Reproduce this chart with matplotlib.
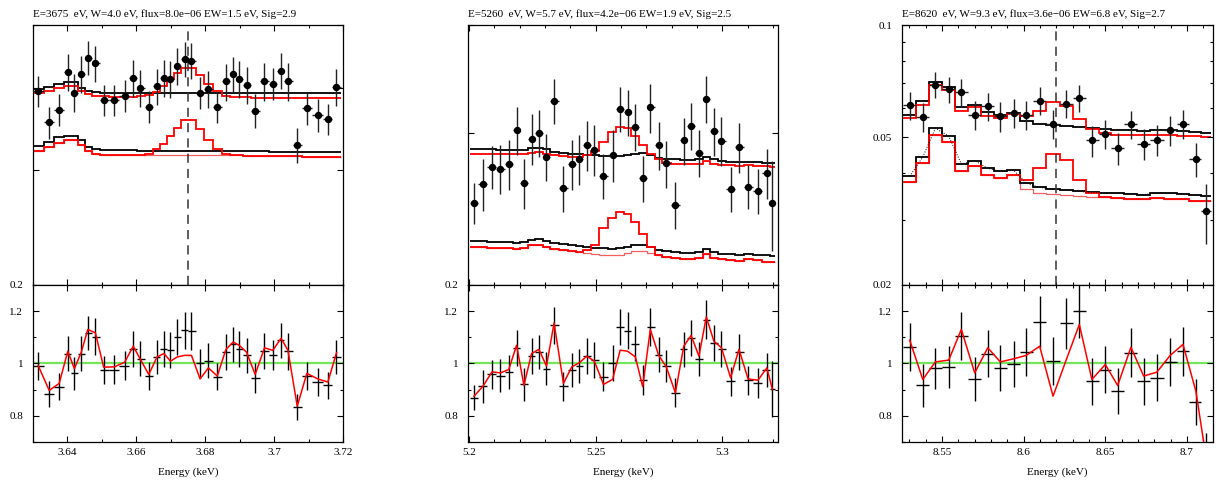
import matplotlib
matplotlib.use("Agg")
import matplotlib.pyplot as plt
import numpy as np
from matplotlib.ticker import MultipleLocator, FixedLocator, NullLocator, FormatStrFormatter

plt.rcParams['font.family'] = ['Liberation Serif', 'DejaVu Serif']
plt.rcParams['font.size'] = 8

# ---- panel 1 : E=3675 eV ----
p1_title = "E=3675  eV, W=4.0 eV, flux=8.0e\u221206 EW=1.5 eV, Sig=2.9"
p1_energy = [3.6315, 3.6347, 3.6376, 3.6401, 3.6420, 3.6440, 3.6459, 3.6481, 3.6505, 3.6536,
             3.6566, 3.6591, 3.6612, 3.6636, 3.6660, 3.6680, 3.6699, 3.6719, 3.6740, 3.6760,
             3.6785, 3.6809, 3.6835, 3.6860, 3.6881, 3.6899, 3.6920, 3.6945, 3.6972, 3.6996,
             3.7020, 3.7040, 3.7067, 3.7095, 3.7127, 3.7156, 3.7181]
p1_counts = [0.396, 0.355, 0.371, 0.424, 0.394, 0.421, 0.446, 0.437, 0.384, 0.384,
             0.390, 0.415, 0.401, 0.375, 0.403, 0.415, 0.414, 0.433, 0.444, 0.441,
             0.394, 0.399, 0.374, 0.410, 0.421, 0.414, 0.405, 0.370, 0.410, 0.407,
             0.426, 0.410, 0.328, 0.373, 0.364, 0.359, 0.402]
p1_ratio = [0.990, 0.884, 0.911, 1.038, 0.962, 1.038, 1.117, 1.102, 0.975, 0.977,
            0.992, 1.057, 1.019, 0.952, 1.025, 1.054, 1.051, 1.101, 1.127, 1.124,
            1.000, 1.011, 0.949, 1.045, 1.073, 1.054, 1.031, 0.943, 1.047, 1.034,
            1.088, 1.047, 0.834, 0.952, 0.929, 0.916, 1.025]
p1_ratio_err = [0.054, 0.050, 0.051, 0.066, 0.064, 0.066, 0.066, 0.070, 0.054, 0.054,
                0.055, 0.069, 0.066, 0.054, 0.066, 0.069, 0.069, 0.070, 0.070, 0.071,
                0.057, 0.066, 0.052, 0.068, 0.068, 0.069, 0.068, 0.057, 0.069, 0.057,
                0.068, 0.070, 0.051, 0.054, 0.054, 0.051, 0.066]
p1_line_ratio = [0.992, 0.897, 0.924, 1.047, 0.980, 1.043, 1.130, 1.117, 0.986, 0.987,
                 1.005, 1.066, 1.015, 0.958, 1.025, 1.038, 1.009, 1.025, 1.031, 1.031,
                 0.941, 0.983, 0.952, 1.054, 1.082, 1.069, 1.043, 0.958, 1.060, 1.050,
                 1.096, 1.051, 0.837, 0.962, 0.941, 0.929, 1.041]
p1_cont_hi = [0.399, 0.402, 0.406, 0.409, 0.409, 0.400, 0.396, 0.395, 0.394, 0.394,
              0.394, 0.394, 0.394, 0.394, 0.394, 0.394, 0.394, 0.394, 0.394, 0.394,
              0.394, 0.394, 0.394, 0.394, 0.394, 0.3935, 0.3935, 0.3935, 0.3935, 0.3935,
              0.393, 0.393, 0.393, 0.393, 0.393, 0.393, 0.393]
p1_line_hi = [0.393, 0.396, 0.401, 0.404, 0.404, 0.397, 0.392, 0.390, 0.389, 0.388,
              0.388, 0.388, 0.389, 0.391, 0.395, 0.403, 0.414, 0.423, 0.430, 0.430,
              0.419, 0.406, 0.397, 0.390, 0.388, 0.3875, 0.3875, 0.387, 0.387, 0.387,
              0.387, 0.387, 0.387, 0.387, 0.387, 0.387, 0.387]
p1_cont_lo = [0.326, 0.331, 0.337, 0.338, 0.338, 0.333, 0.325, 0.323, 0.322, 0.322,
              0.3215, 0.3215, 0.321, 0.321, 0.321, 0.321, 0.321, 0.321, 0.321, 0.321,
              0.321, 0.321, 0.321, 0.3205, 0.3205, 0.3205, 0.3205, 0.3205, 0.3205, 0.320,
              0.320, 0.320, 0.320, 0.320, 0.320, 0.320, 0.320]
p1_line_lo = [0.3205, 0.325, 0.330, 0.333, 0.333, 0.328, 0.321, 0.317, 0.3165, 0.316,
              0.316, 0.316, 0.3165, 0.317, 0.323, 0.329, 0.338, 0.348, 0.358, 0.358,
              0.347, 0.333, 0.323, 0.317, 0.316, 0.316, 0.3155, 0.3155, 0.315, 0.315,
              0.315, 0.315, 0.3148, 0.3146, 0.3145, 0.3145, 0.3145]
p1_red_base_lo = [0.3205, 0.325, 0.330, 0.333, 0.333, 0.328, 0.321, 0.317, 0.3165, 0.316,
                  0.316, 0.316, 0.3165, 0.3165, 0.3165, 0.3165, 0.3165, 0.3165, 0.3165, 0.3165,
                  0.316, 0.316, 0.316, 0.316, 0.316, 0.316, 0.3155, 0.3155, 0.315, 0.315,
                  0.315, 0.315, 0.3148, 0.3146, 0.3145, 0.3145, 0.3145]

# ---- panel 2 : E=5260 eV ----
p2_title = "E=5260  eV, W=5.7 eV, flux=4.2e\u221206 EW=1.9 eV, Sig=2.5"
p2_energy = [5.2020, 5.2055, 5.2091, 5.2124, 5.2157, 5.2188, 5.2217, 5.2247, 5.2276, 5.2306,
             5.2336, 5.2373, 5.2406, 5.2436, 5.2465, 5.2495, 5.2531, 5.2567, 5.2597, 5.2626,
             5.2657, 5.2686, 5.2716, 5.2749, 5.2779, 5.2815, 5.2848, 5.2877, 5.2908, 5.2937,
             5.2967, 5.2997, 5.3033, 5.3066, 5.3102, 5.3141, 5.3176, 5.3198]
p2_counts = [0.2489, 0.2618, 0.2741, 0.2728, 0.2760, 0.3022, 0.2625, 0.2954, 0.3000, 0.2814,
             0.3269, 0.2590, 0.2760, 0.2797, 0.2905, 0.2867, 0.2676, 0.2826, 0.3201, 0.3170,
             0.3049, 0.2660, 0.3212, 0.2905, 0.2767, 0.2476, 0.2941, 0.3060, 0.2846, 0.3286,
             0.3014, 0.2936, 0.2585, 0.2890, 0.2600, 0.2572, 0.2695, 0.2489]
p2_ratio = [0.869, 0.913, 0.958, 0.954, 0.967, 1.060, 0.920, 1.028, 1.043, 0.980,
            1.146, 0.913, 0.975, 0.990, 1.028, 1.013, 0.949, 1.003, 1.139, 1.126,
            1.076, 0.936, 1.139, 1.034, 0.990, 0.888, 1.054, 1.096, 1.018, 1.168,
            1.079, 1.057, 0.932, 1.043, 0.935, 0.926, 0.975, 0.903]
p2_ratio_err = [0.047, 0.064, 0.056, 0.062, 0.064, 0.069, 0.062, 0.069, 0.065, 0.062,
                0.070, 0.056, 0.064, 0.065, 0.069, 0.069, 0.056, 0.069, 0.069, 0.070,
                0.068, 0.057, 0.074, 0.066, 0.062, 0.056, 0.066, 0.069, 0.065, 0.073,
                0.069, 0.069, 0.056, 0.069, 0.055, 0.056, 0.064, 0.108]
p2_line_ratio = [0.875, 0.913, 0.968, 0.964, 0.977, 1.070, 0.916, 1.038, 1.054, 0.990,
                 1.155, 0.924, 0.987, 1.003, 1.028, 1.009, 0.920, 0.939, 1.051, 1.047,
                 1.025, 0.911, 1.130, 1.031, 0.987, 0.888, 1.066, 1.107, 1.028, 1.178,
                 1.085, 1.060, 0.945, 1.054, 0.941, 0.936, 0.983, 0.901]
p2_cont_hi = [0.2877, 0.2874, 0.2872, 0.2869, 0.2867, 0.2864, 0.2867, 0.2879, 0.2884, 0.2872,
              0.2854, 0.2846, 0.2839, 0.2834, 0.2829, 0.2826, 0.2821, 0.2821, 0.2819, 0.2826,
              0.2839, 0.2844, 0.2829, 0.2809, 0.2799, 0.2797, 0.2794, 0.2794, 0.2797, 0.2816,
              0.2797, 0.2784, 0.2779, 0.2774, 0.2779, 0.2774, 0.2770, 0.2767]
p2_line_hi = [0.2839, 0.2839, 0.2836, 0.2834, 0.2834, 0.2834, 0.2839, 0.2846, 0.2851, 0.2839,
              0.2826, 0.2819, 0.2814, 0.2814, 0.2829, 0.2859, 0.2928, 0.3006, 0.3046, 0.3041,
              0.2975, 0.2905, 0.2839, 0.2797, 0.2772, 0.2765, 0.2760, 0.2760, 0.2765, 0.2784,
              0.2765, 0.2755, 0.2753, 0.2750, 0.2755, 0.2750, 0.2745, 0.2743]
p2_cont_lo = [0.2249, 0.2247, 0.2245, 0.2243, 0.2241, 0.2239, 0.2243, 0.2257, 0.2259, 0.2249,
              0.2237, 0.2229, 0.2223, 0.2218, 0.2213, 0.2209, 0.2205, 0.2204, 0.2205, 0.2213,
              0.2223, 0.2227, 0.2213, 0.2198, 0.2190, 0.2184, 0.2180, 0.2180, 0.2184, 0.2204,
              0.2184, 0.2175, 0.2171, 0.2167, 0.2175, 0.2169, 0.2164, 0.2159]
p2_line_lo = [0.2213, 0.2211, 0.2209, 0.2207, 0.2205, 0.2204, 0.2209, 0.2223, 0.2227, 0.2213,
              0.2202, 0.2194, 0.2188, 0.2182, 0.2194, 0.2227, 0.2328, 0.2392, 0.2428, 0.2417,
              0.2365, 0.2293, 0.2213, 0.2165, 0.2156, 0.2150, 0.2146, 0.2146, 0.2150, 0.2175,
              0.2150, 0.2141, 0.2137, 0.2133, 0.2141, 0.2135, 0.2127, 0.2124]
p2_red_base_lo = [0.2213, 0.2211, 0.2209, 0.2207, 0.2205, 0.2204, 0.2209, 0.2223, 0.2227, 0.2213,
                  0.2202, 0.2194, 0.2188, 0.2182, 0.2177, 0.2173, 0.2169, 0.2168, 0.2169, 0.2177,
                  0.2187, 0.2191, 0.2177, 0.2165, 0.2156, 0.2150, 0.2146, 0.2146, 0.2150, 0.2175,
                  0.2150, 0.2141, 0.2137, 0.2133, 0.2141, 0.2135, 0.2127, 0.2124]

# ---- panel 3 : E=8620 eV ----
p3_title = "E=8620  eV, W=9.3 eV, flux=3.6e\u221206 EW=6.8 eV, Sig=2.7"
p3_energy = [8.5302, 8.5382, 8.5459, 8.5541, 8.5618, 8.5700, 8.5780, 8.5857, 8.5939, 8.6016,
             8.6098, 8.6180, 8.6259, 8.6341, 8.6418, 8.6500, 8.6576, 8.6657, 8.6735, 8.6816,
             8.6898, 8.6976, 8.7055, 8.7116]
p3_counts = [0.0609, 0.0567, 0.0691, 0.0673, 0.0661, 0.0573, 0.0605, 0.0569, 0.0581, 0.0573,
             0.0627, 0.0543, 0.0615, 0.0637, 0.0490, 0.0510, 0.0466, 0.0541, 0.0480, 0.0491,
             0.0522, 0.0543, 0.0436, 0.0316]
p3_ratio = [1.064, 0.916, 0.981, 0.987, 1.104, 0.941, 1.038, 0.983, 0.999, 1.043,
            1.159, 1.009, 1.153, 1.200, 0.932, 0.977, 0.894, 1.041, 0.932, 0.945,
            1.006, 1.047, 0.852, 0.620]
p3_ratio_err = [0.092, 0.082, 0.079, 0.080, 0.092, 0.084, 0.089, 0.089, 0.088, 0.092,
                0.098, 0.092, 0.098, 0.101, 0.089, 0.090, 0.088, 0.093, 0.090, 0.090,
                0.093, 0.094, 0.087, 0.115]
p3_line_ratio = [1.089, 0.939, 1.006, 1.013, 1.130, 0.964, 1.060, 1.006, 1.018, 1.031,
                 1.066, 0.875, 1.011, 1.149, 0.939, 0.996, 0.916, 1.062, 0.952, 0.967,
                 1.031, 1.073, 0.894, 0.646]
p3_cont_hi = [0.0573, 0.0624, 0.0703, 0.0680, 0.0602, 0.0609, 0.0585, 0.0573, 0.0581, 0.0552,
              0.0543, 0.0538, 0.0535, 0.0532, 0.0528, 0.0524, 0.0522, 0.0521, 0.0519, 0.0522,
              0.0521, 0.0519, 0.0516, 0.0513]
p3_line_hi = [0.0561, 0.0609, 0.0689, 0.0671, 0.0587, 0.0602, 0.0569, 0.0563, 0.0577, 0.0569,
              0.0589, 0.0622, 0.0605, 0.0558, 0.0526, 0.0512, 0.0508, 0.0506, 0.0505, 0.0508,
              0.0506, 0.0503, 0.0502, 0.0500]
p3_cont_lo = [0.0392, 0.0442, 0.0528, 0.0503, 0.0423, 0.0432, 0.0412, 0.0404, 0.0407, 0.0376,
              0.0366, 0.0362, 0.0360, 0.0357, 0.0355, 0.0354, 0.0353, 0.0352, 0.0350, 0.0354,
              0.0353, 0.0352, 0.0349, 0.0347]
p3_line_lo = [0.0378, 0.0425, 0.0508, 0.0485, 0.0406, 0.0417, 0.0396, 0.0387, 0.0396, 0.0383,
              0.0414, 0.0450, 0.0433, 0.0383, 0.0354, 0.0344, 0.0343, 0.0341, 0.0340, 0.0342,
              0.0341, 0.0340, 0.0337, 0.0336]
p3_red_base_lo = [0.0378, 0.0425, 0.0508, 0.0485, 0.0406, 0.0417, 0.0396, 0.0387, 0.0396, 0.0362,
                  0.0354, 0.0351, 0.0349, 0.0347, 0.0345, 0.0344, 0.0343, 0.0341, 0.0340, 0.0342,
                  0.0341, 0.0340, 0.0337, 0.0336]

# axis ranges and ticks
xlims = [(3.63, 3.72), (5.1996, 5.322), (8.5255, 8.716)]
x_major = [0.02, 0.05, 0.05]
top_ylims = [(0.2, 0.5), (0.2, 0.4), (0.02, 0.1)]
top_yticks = [[0.2, 0.3, 0.4, 0.5], [0.2, 0.3, 0.4], [0.02, 0.05, 0.1]]
top_yticklabels = [["0.2", "", "", ""], ["0.2", "", ""], ["0.02", "0.05", "0.1"]]
top_yminor = [[], [], [0.03, 0.04, 0.06, 0.07, 0.08, 0.09]]
line_energy = [3.675, None, 8.620]

panels = [
    (p1_title, p1_energy, p1_counts, p1_ratio, p1_ratio_err, p1_line_ratio,
     p1_cont_hi, p1_line_hi, p1_cont_lo, p1_line_lo, p1_red_base_lo),
    (p2_title, p2_energy, p2_counts, p2_ratio, p2_ratio_err, p2_line_ratio,
     p2_cont_hi, p2_line_hi, p2_cont_lo, p2_line_lo, p2_red_base_lo),
    (p3_title, p3_energy, p3_counts, p3_ratio, p3_ratio_err, p3_line_ratio,
     p3_cont_hi, p3_line_hi, p3_cont_lo, p3_line_lo, p3_red_base_lo),
]

lefts = [0.0271, 0.3839, 0.7400]
widths = [0.2543, 0.2543, 0.2551]
bot_y0, mid_y, top_y1 = 0.0868, 0.4112, 0.948

RED = "#ff0000"
GREEN = "#74e45a"


def bin_edges(centres):
    c = np.asarray(centres)
    mids = (c[1:] + c[:-1]) / 2
    first = c[0] - (mids[0] - c[0])
    last = c[-1] + (c[-1] - mids[-1])
    return np.concatenate([[first], mids, [last]])


def style_axis(ax):
    ax.tick_params(which="both", direction="in", top=True, right=True, labelsize=8)
    ax.tick_params(which="major", length=4, width=0.8)
    ax.tick_params(which="minor", length=2.2, width=0.8)
    for s in ax.spines.values():
        s.set_linewidth(0.9)


fig = plt.figure(figsize=(12.19, 4.84), dpi=100)

for i, pan in enumerate(panels):
    title, en, cts, rat, rerr, lrat, chi, lhi, clo, llo, rbase = pan
    en = np.asarray(en)
    cts = np.asarray(cts)
    rat = np.asarray(rat)
    rerr = np.asarray(rerr)
    edges = bin_edges(en)
    xerr = np.vstack([en - edges[:-1], edges[1:] - en])
    cerr = cts * rerr / rat

    ax = fig.add_axes([lefts[i], mid_y, widths[i], top_y1 - mid_y])
    axr = fig.add_axes([lefts[i], bot_y0, widths[i], mid_y - bot_y0], sharex=ax)

    # upper panel: folded models and data
    ax.stairs(rbase, edges, color="#f06060", lw=0.9, baseline=None)
    for vals, col in ((chi, "black"), (lhi, RED), (clo, "black"), (llo, RED)):
        ax.stairs(vals, edges, color=col, lw=1.3, baseline=None)
    if i == 2:
        ax.plot(en, clo, color="black", ls=":", lw=0.7)
    ax.errorbar(en, cts, yerr=cerr, xerr=xerr, fmt="o", ms=4.3, color="black",
                ecolor="#222222", elinewidth=1.0, capsize=0, zorder=5)
    if line_energy[i] is not None:
        ax.axvline(line_energy[i], color="#333333", lw=1.1, dashes=(6, 4))

    ax.set_yscale("log")
    ax.set_ylim(*top_ylims[i])
    ax.yaxis.set_major_locator(FixedLocator(top_yticks[i]))
    ax.set_yticklabels(top_yticklabels[i])
    if top_yminor[i]:
        ax.yaxis.set_minor_locator(FixedLocator(top_yminor[i]))
    else:
        ax.yaxis.set_minor_locator(NullLocator())
    ax.yaxis.set_minor_formatter(plt.NullFormatter())
    ax.set_title(title, loc="left", fontsize=8, pad=6)
    style_axis(ax)
    ax.tick_params(axis="y", pad=7)
    plt.setp(ax.get_xticklabels(), visible=False)

    # lower panel: ratio
    axr.axhline(1.0, color=GREEN, lw=1.6, zorder=1)
    axr.errorbar(en, rat, yerr=rerr, xerr=xerr, fmt="none", ecolor="black",
                 elinewidth=1.0, capsize=0, zorder=3)
    axr.plot(en, lrat, color=RED, lw=1.1, zorder=4)
    axr.set_ylim(0.7, 1.3)
    axr.yaxis.set_major_locator(FixedLocator([0.8, 1.0, 1.2]))
    axr.yaxis.set_major_formatter(FormatStrFormatter("%g"))
    axr.yaxis.set_minor_locator(MultipleLocator(0.1))
    axr.set_xlim(*xlims[i])
    axr.xaxis.set_major_locator(MultipleLocator(x_major[i]))
    axr.xaxis.set_minor_locator(MultipleLocator(0.01))
    axr.xaxis.set_major_formatter(FormatStrFormatter("%g"))
    axr.set_xlabel("Energy (keV)", fontsize=8, labelpad=8)
    style_axis(axr)
    axr.tick_params(axis="y", pad=7)
    axr.tick_params(axis="x", pad=4)

fig.savefig("out.png", dpi=100)
